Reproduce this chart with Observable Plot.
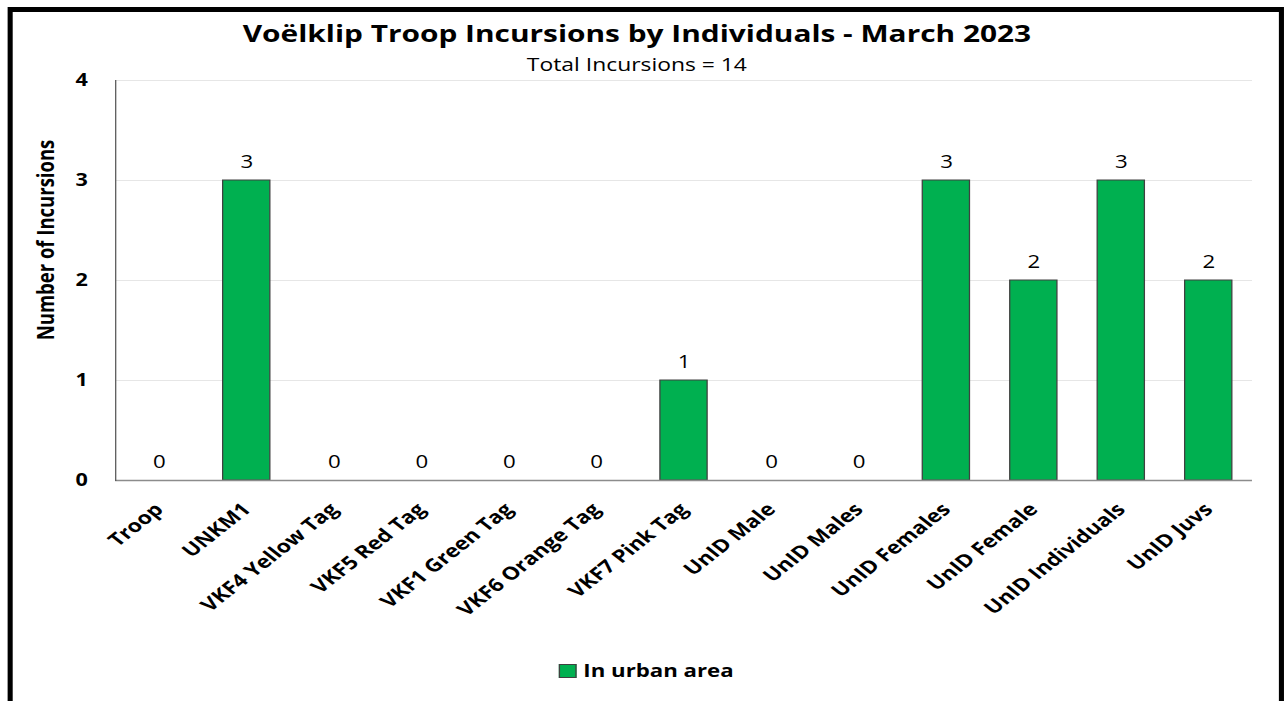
<!DOCTYPE html>
<html>
<head>
<meta charset="utf-8">
<script src="https://cdn.jsdelivr.net/npm/d3@7"></script>
<script src="https://cdn.jsdelivr.net/npm/@observablehq/plot@0.6"></script>
<style>
  html, body { margin: 0; padding: 0; background: #fff; width: 1284px; height: 701px; overflow: hidden; font-family: "Open Sans", sans-serif; }
  #page { position: absolute; left: 0; top: 0; width: 1011px; height: 701px; transform: scaleX(1.27); transform-origin: 0 0; }
  #frame { position: absolute; left: 5.5px; top: 7px; width: 997px; height: 720px; border-style: solid; border-color: #000; border-width: 5px 4px; }
  #title { position: absolute; left: 0; width: 1003px; top: 17px; text-align: center; font-weight: bold; font-size: 23.5px; color: #000; white-space: nowrap; }
  #subtitle { position: absolute; left: 0; width: 1003px; top: 52px; text-align: center; font-size: 18px; color: #000; white-space: nowrap; }
  #ylabel { position: absolute; left: 35.4px; top: 240px; transform: translate(-50%, -50%) rotate(-90deg); white-space: nowrap; font-weight: bold; font-size: 18.5px; color: #000; }
  #chart { position: absolute; left: 0; top: 60px; }
  #legend { position: absolute; left: 0; width: 1018px; top: 658px; text-align: center; font-weight: bold; font-size: 17.5px; color: #000; white-space: nowrap; }
  #legend .sw { display: inline-block; width: 12px; height: 12px; background: #00b050; border: 1px solid #404040; vertical-align: -1px; margin-right: 5px; }
</style>
</head>
<body>
<div id="page">
<div id="frame"></div>
<div id="title">Voëlklip Troop Incursions by Individuals - March 2023</div>
<div id="subtitle">Total Incursions = 14</div>
<div id="ylabel">Number of Incursions</div>
<div id="chart"></div>
<div id="legend"><span class="sw"></span>In urban area</div>
</div>
<script>
const categories = ["Troop", "UNKM1", "VKF4 Yellow Tag", "VKF5 Red Tag", "VKF1 Green Tag", "VKF6 Orange Tag", "VKF7 Pink Tag", "UnID Male", "UnID Males", "UnID Females", "UnID Female", "UnID Individuals", "UnID Juvs"];
const incursions = [0, 3, 0, 0, 0, 0, 1, 0, 0, 3, 2, 3, 2];
const yTicks = [0, 1, 2, 3, 4];
const seriesName = "In urban area";

const data = categories.map((c, i) => ({category: c, value: incursions[i]}));

const chart = Plot.plot({
  width: 1011,
  height: 560,
  marginTop: 20,
  marginBottom: 140,
  marginLeft: 90.6,
  marginRight: 25.2,
  style: {fontFamily: "Open Sans, sans-serif", color: "#000", background: "transparent", overflow: "visible"},
  x: {domain: categories, paddingInner: 0.46, paddingOuter: 0.23, round: false, label: null},
  y: {domain: [0, 4], ticks: yTicks, label: null},
  marks: [
    Plot.ruleY(yTicks.filter(d => d > 0), {stroke: "#e6e6e6", strokeWidth: 1}),
    Plot.barY(data, {x: "category", y: "value", fill: "#00b050", stroke: "#404040", strokeWidth: 1}),
    Plot.ruleY([0], {stroke: "#8c8c8c", strokeWidth: 1.5}),
    Plot.frame({anchor: "left", stroke: "#595959", strokeWidth: 1}),
    Plot.text(data, {x: "category", y: "value", text: d => String(d.value), dy: -18, fontSize: 17.5, fill: "#000"}),
    Plot.axisY({ticks: yTicks, tickSize: 0, tickPadding: 22, fontSize: 17, fontWeight: "bold", tickFormat: d => String(d)}),
    Plot.axisX({tickSize: 0, tickPadding: 26, tickRotate: -45, fontSize: 18, fontWeight: "bold"})
  ]
});
document.getElementById("chart").appendChild(chart);
</script>
</body>
</html>
